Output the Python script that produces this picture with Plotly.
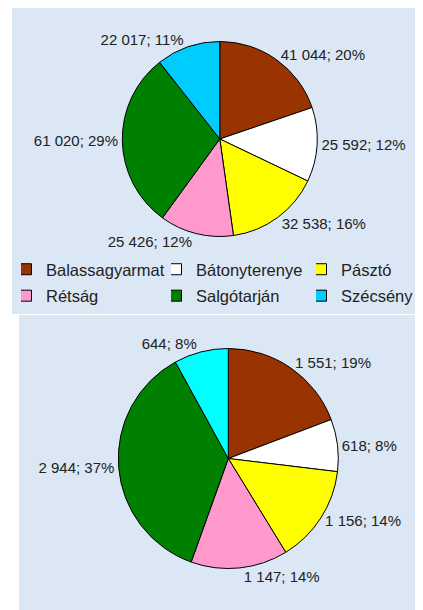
import plotly.graph_objects as go

# ---- data ----
categories = ["Balassagyarmat", "Bátonyterenye", "Pásztó", "Rétság", "Salgótarján", "Szécsény"]
values_top = [41044, 25592, 32538, 25426, 61020, 22017]
values_bottom = [1551, 618, 1156, 1147, 2944, 644]

colors_top = ["#993300", "#ffffff", "#ffff00", "#ff99cc", "#008000", "#00ccff"]
colors_bottom = ["#993300", "#ffffff", "#ffff00", "#ff99cc", "#008000", "#00ffff"]

# page body has an 8px margin: the figure is drawn 8px right and down
OFF = 8
W, H = 423 - OFF, 610 - OFF
FONT = "Liberation Sans, Arial, sans-serif"
TEXT_COLOR = "#222222"
PANEL = "#dbe7f5"

def fx(px):  # reference page x (px) -> paper fraction
    return (px - OFF) / W

def fy(py):  # reference page y (px) -> paper fraction
    return 1 - (py - OFF) / H

def px_domain(cx, cy, r):
    return dict(x=[fx(cx - r), fx(cx + r)], y=[fy(cy + r), fy(cy - r)])

fig = go.Figure()

fig.add_trace(go.Pie(
    labels=categories, values=values_top, sort=False, direction="clockwise",
    rotation=0, domain=px_domain(219.8, 139.0, 97.5),
    marker=dict(colors=colors_top, line=dict(color="#000000", width=1)),
    textposition="outside", texttemplate="%{value:,}; %{percent:.0%}",
    textfont=dict(family=FONT, size=15, color=TEXT_COLOR),
    showlegend=False, hoverinfo="label+value+percent",
))

fig.add_trace(go.Pie(
    labels=categories, values=values_bottom, sort=False, direction="clockwise",
    rotation=0, domain=px_domain(228.3, 458.5, 110),
    marker=dict(colors=colors_bottom, line=dict(color="#000000", width=1)),
    textposition="outside", texttemplate="%{value:,}; %{percent:.0%}",
    textfont=dict(family=FONT, size=15, color=TEXT_COLOR),
    showlegend=False, hoverinfo="label+value+percent",
))

# legend entries (three columns, two rows) as legend-only markers
legend_cols = ["legend", "legend2", "legend3"]
for i, (name, col) in enumerate(zip(categories, colors_top)):
    fig.add_trace(go.Scatter(
        x=[None], y=[None], mode="markers", name=name, legendgroup=name,
        marker=dict(symbol="square", size=11, color=col, line=dict(color="#000000", width=1)),
        legend=legend_cols[i % 3], showlegend=True, hoverinfo="skip",
    ))

leg_common = dict(
    orientation="v", bgcolor="rgba(0,0,0,0)", borderwidth=0,
    font=dict(family=FONT, size=16.5, color=TEXT_COLOR),
    xanchor="left", yanchor="top", itemclick=False, itemdoubleclick=False,
    indentation=-15, tracegroupgap=2,
)
legend_square_x = [32.0, 182.0, 327.0]
legend_top = 252.0
fig.update_layout(
    legend=dict(x=fx(legend_square_x[0] - 11), y=fy(legend_top), **leg_common),
    legend2=dict(x=fx(legend_square_x[1] - 11), y=fy(legend_top), **leg_common),
    legend3=dict(x=fx(legend_square_x[2] - 11), y=fy(legend_top), **leg_common),
)

fig.update_layout(
    width=W, height=H, autosize=False,
    margin=dict(l=0, r=0, t=0, b=0),
    paper_bgcolor="#ffffff", plot_bgcolor="rgba(0,0,0,0)",
    separators=", ",
    font=dict(family=FONT, color=TEXT_COLOR),
    xaxis=dict(visible=False), yaxis=dict(visible=False),
    shapes=[
        dict(type="rect", xref="paper", yref="paper", layer="below",
             x0=fx(12), x1=1, y0=fy(314), y1=fy(7),
             fillcolor=PANEL, line=dict(width=0)),
        dict(type="rect", xref="paper", yref="paper", layer="below",
             x0=fx(19), x1=1, y0=0, y1=fy(315),
             fillcolor=PANEL, line=dict(width=0)),
    ],
)

fig.write_html("out.html")
